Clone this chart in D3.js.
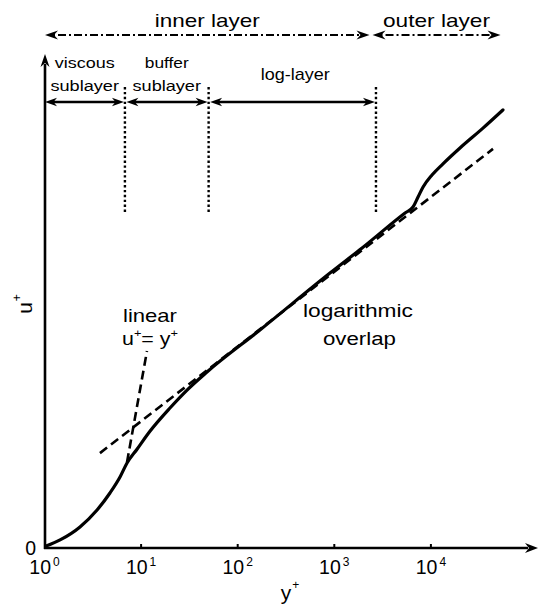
<!DOCTYPE html>
<html><head><meta charset="utf-8">
<script src="https://cdn.jsdelivr.net/npm/d3@7"></script>
<style>
body{margin:0;background:#fff}
svg{display:block}
text{font-family:"Liberation Sans",Arial,Helvetica,sans-serif;fill:#000}
</style>
</head><body>
<svg id="c" width="539" height="605"></svg>
<script>
// ---- data ----
const curveYplus = [1.04, 1.45, 2.33, 3.5, 4.76, 6.05, 7.15, 9.07, 12.4, 19.9, 29.9, 48.1, 170, 902, 1940, 5400, 6530, 7360, 8300, 10260, 13330, 20000, 34600, 55700];
const curveUplus = [0.15, 0.62, 1.62, 2.92, 4.23, 5.46, 6.54, 7.6, 9.0, 10.77, 12.15, 13.54, 16.77, 21.15, 23.08, 25.77, 26.23, 27.0, 27.77, 28.69, 29.55, 30.77, 32.3, 33.7];
const linearYplus = [7.15, 11.5];
const linearUplus = [6.6, 15.15];
const logYplus = [3.75, 43950];
const logUplus = [7.3, 30.7];
const xTicks = [1, 10, 100, 1000, 10000];
const xTickExp = ["0", "1", "2", "3", "4"];
const yTicks = [0];
const regionNames = [["viscous", "sublayer"], ["buffer", "sublayer"], ["log-layer"]];
const regionBounds = [1, 6.8, 50, 2700];
const layerNames = ["inner layer", "outer layer"];
const layerBounds = [1, 2400, 54500];

// ---- setup ----
const svg = d3.select("#c");
const x = d3.scaleLog().domain([1, 1e5]).range([44.5, 44.5 + 5 * 96.6]);
const y = d3.scaleLinear().domain([0, 38]).range([548, 54]);

function arrowHead(g, tx, ty, dx, dy, L, W, n) {
  const px = -dy, py = dx;
  const bx = tx - dx * L, by = ty - dy * L;
  const nx = tx - dx * (L - n), ny = ty - dy * (L - n);
  g.append("path")
    .attr("d", `M${tx},${ty}L${bx + px * W},${by + py * W}L${nx},${ny}L${bx - px * W},${by - py * W}Z`)
    .attr("fill", "#000");
}

function stretchedText(cx, base, parts, fs, targetW) {
  const t = svg.append("text").attr("font-size", fs).attr("x", 0).attr("y", 0);
  parts.forEach(p => {
    if (p.sup) {
      t.append("tspan").attr("font-size", fs * 0.6).attr("dy", -fs * 0.42).text(p.t);
    } else {
      const ts = t.append("tspan").text(p.t);
      if (p.after) ts.attr("dy", fs * 0.42);
    }
  });
  const w = t.node().getComputedTextLength();
  const s = targetW / w;
  t.attr("transform", `translate(${cx - targetW / 2},${base}) scale(${s},1)`);
  return t;
}

// ---- axes ----
const ax = svg.append("g");
ax.append("line").attr("x1", 44).attr("x2", 528).attr("y1", y(0)).attr("y2", y(0))
  .attr("stroke", "#000").attr("stroke-width", 2.6);
arrowHead(ax, 538, y(0), 1, 0, 13, 5, 4);
ax.append("line").attr("x1", 45).attr("x2", 45).attr("y1", y(0) + 1).attr("y2", 64)
  .attr("stroke", "#000").attr("stroke-width", 2.6);
arrowHead(ax, 45, 54, 0, -1, 13, 4.5, 4);

// x ticks (inward)
xTicks.slice(1).forEach(v => {
  ax.append("line").attr("x1", x(v)).attr("x2", x(v)).attr("y1", y(0)).attr("y2", y(0) - 4)
    .attr("stroke", "#000").attr("stroke-width", 2);
});
xTicks.forEach((v, i) => {
  const t = ax.append("text").attr("x", x(v)).attr("y", 574).attr("text-anchor", "middle")
    .attr("font-size", 19.5);
  t.append("tspan").text("10");
  t.append("tspan").attr("font-size", 12).attr("dx", 2).attr("dy", -8).text(xTickExp[i]);
});
yTicks.forEach(v => {
  ax.append("text").attr("x", 36).attr("y", y(v) + 7).attr("text-anchor", "end")
    .attr("font-size", 19.5).text(String(v));
});

// axis titles
{
  const t = svg.append("text").attr("x", 290).attr("y", 600).attr("text-anchor", "middle").attr("font-size", 21);
  t.append("tspan").text("y");
  t.append("tspan").attr("font-size", 12).attr("dx", 1).attr("dy", -11).text("+");
}
{
  const t = svg.append("text").attr("transform", "translate(32,304) rotate(-90)")
    .attr("text-anchor", "middle").attr("font-size", 21);
  t.append("tspan").text("u");
  t.append("tspan").attr("font-size", 12).attr("dx", 1).attr("dy", -11).text("+");
}

// ---- region dotted lines ----
regionBounds.slice(1).forEach(b => {
  svg.append("line").attr("x1", x(b)).attr("x2", x(b)).attr("y1", 87).attr("y2", 213)
    .attr("stroke", "#000").attr("stroke-width", 2.4).attr("stroke-dasharray", "2.4,2.5");
});

// region arrows
const rowY = 102;
regionNames.forEach((names, i) => {
  const a = x(regionBounds[i]) + (i === 0 ? 0.5 : 1.5);
  const b = x(regionBounds[i + 1]) - 1;
  const g = svg.append("g");
  g.append("line").attr("x1", a + 6).attr("x2", b - 6).attr("y1", rowY).attr("y2", rowY)
    .attr("stroke", "#000").attr("stroke-width", 2.4);
  arrowHead(g, a, rowY, -1, 0, 12, 4.3, 3.5);
  arrowHead(g, b, rowY, 1, 0, 12, 4.3, 3.5);
  const cx = (x(regionBounds[i]) + x(regionBounds[i + 1])) / 2;
  if (names.length === 2) {
    stretchedText(cx, 68, [{t: names[0]}], 15, names[0] === "viscous" ? 60 : 44);
    stretchedText(cx, 91, [{t: names[1]}], 15, 68.5);
  } else {
    stretchedText(cx + 3, 80, [{t: names[0]}], 16, 69);
  }
});

// layer arrows (dash-dot)
const layerY = 35;
layerNames.forEach((name, i) => {
  const a = x(layerBounds[i]) + (i === 0 ? 0.5 : 1.5);
  const b = x(layerBounds[i + 1]) - 1.5;
  const g = svg.append("g");
  g.append("line").attr("x1", a + 8).attr("x2", b - 8).attr("y1", layerY).attr("y2", layerY)
    .attr("stroke", "#000").attr("stroke-width", 2).attr("stroke-dasharray", "2,3,8,3");
  arrowHead(g, a, layerY, -1, 0, 13, 4.5, 4);
  arrowHead(g, b, layerY, 1, 0, 13, 4.5, 4);
  const cx = (a + b) / 2;
  stretchedText(cx, 27, [{t: name}], 18, i === 0 ? 105 : 107);
});

// ---- lines ----
const line = d3.line().x(d => x(d[0])).y(d => y(d[1]));
const logData = d3.zip(logYplus, logUplus);
const linData = d3.zip(linearYplus, linearUplus);
svg.append("path").attr("d", line(logData)).attr("fill", "none").attr("stroke", "#000")
  .attr("stroke-width", 2.6).attr("stroke-dasharray", "9,5");
svg.append("path").attr("d", line(linData)).attr("fill", "none").attr("stroke", "#000")
  .attr("stroke-width", 2.6).attr("stroke-dasharray", "9,5");
const curveData = d3.zip(curveYplus, curveUplus);
svg.append("path").attr("d", line.curve(d3.curveMonotoneX)(curveData)).attr("fill", "none")
  .attr("stroke", "#000").attr("stroke-width", 3.2).attr("stroke-linecap", "round");

// ---- annotations ----
stretchedText(150, 322, [{t: "linear"}], 18, 54);
stretchedText(150, 345, [{t: "u"}, {t: "+", sup: true}, {t: "= y", after: true}, {t: "+", sup: true}], 18, 56);
stretchedText(358, 317, [{t: "logarithmic"}], 19, 110);
stretchedText(359.5, 345, [{t: "overlap"}], 19, 73);
</script>
</body></html>
